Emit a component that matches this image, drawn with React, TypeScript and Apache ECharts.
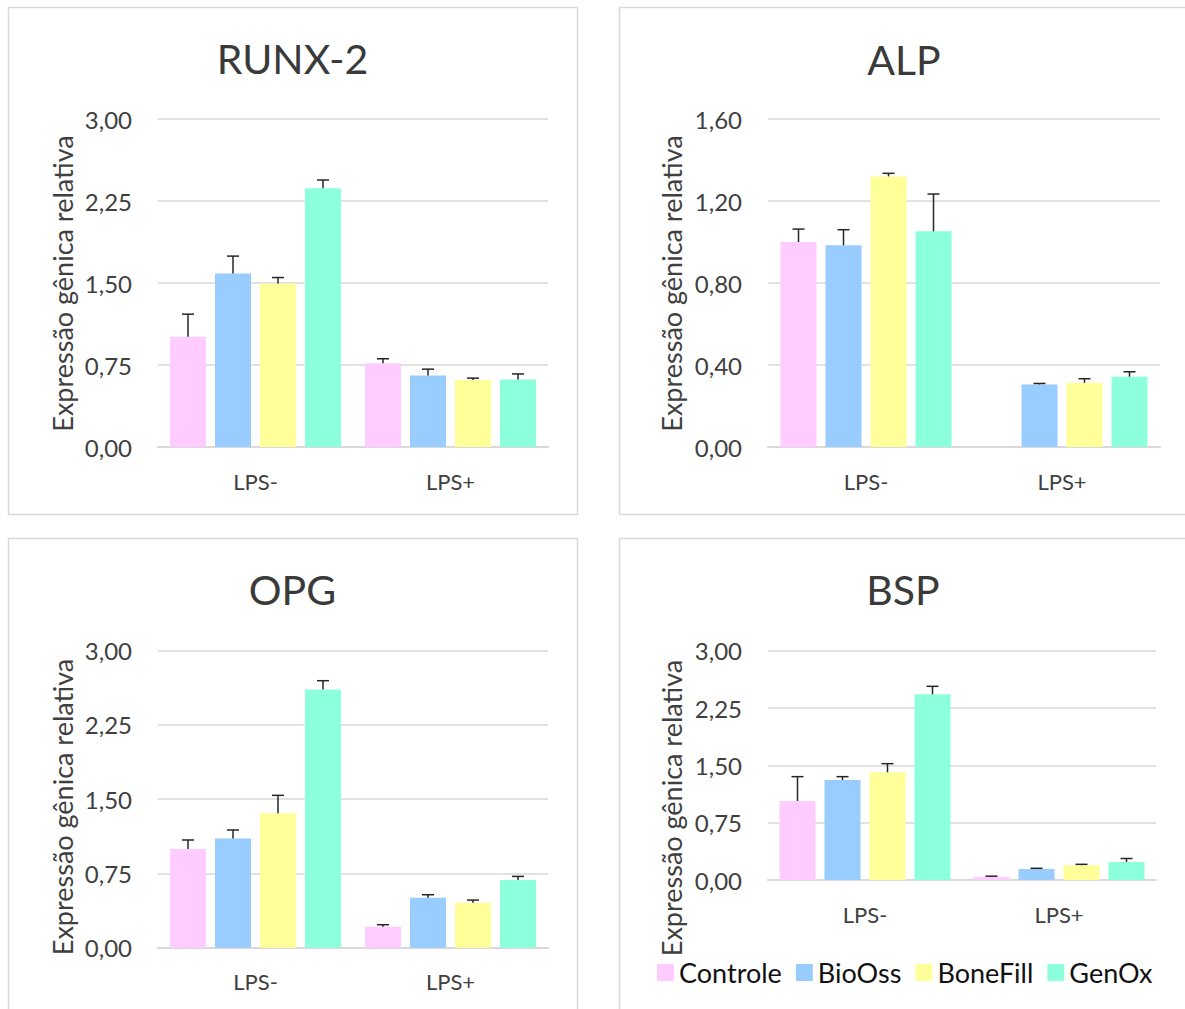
import React, { useEffect, useRef } from "react";
import * as echarts from "echarts";

const categories = ["LPS-", "LPS+"];
const groups = ["Controle", "BioOss", "BoneFill", "GenOx"];
const colors = ["#FFCCFF", "#99CCFF", "#FFFF99", "#8CFFDD"];
const yAxisName = "Expressão gênica relativa";

// mean values [group][category]
const runx2Mean = [[1.008, 0.765], [1.588, 0.655], [1.495, 0.612], [2.366, 0.618]];
const runx2Err = [[0.207, 0.042], [0.158, 0.057], [0.055, 0.018], [0.076, 0.05]];
const alpMean = [[1.0, null], [0.984, 0.305], [1.32, 0.313], [1.052, 0.343]];
const alpErr = [[0.063, null], [0.076, 0.005], [0.015, 0.02], [0.182, 0.024]];
const opgMean = [[0.997, 0.212], [1.104, 0.505], [1.357, 0.455], [2.609, 0.684]];
const opgErr = [[0.091, 0.02], [0.085, 0.03], [0.182, 0.026], [0.088, 0.036]];
const bspMean = [[1.034, 0.039], [1.308, 0.144], [1.409, 0.194], [2.429, 0.235]];
const bspErr = [[0.318, 0.011], [0.044, 0.009], [0.113, 0.011], [0.105, 0.046]];

const BAR_WIDTH = 36;
const BAR_GAP = 0.25;
const CAP = 12;
const FONT = "Lato, 'Open Sans', sans-serif";

const panels = [
  { title: "RUNX-2", mean: runx2Mean, err: runx2Err, max: 3, interval: 0.75,
    grid: { left: 158, top: 119, width: 390, height: 328 },
    titleX: 292.5, titleY: 58, nameX: 62, nameY: 283.5,
    border: { x: 8.5, y: 7.5, w: 569, h: 507 } },
  { title: "ALP", mean: alpMean, err: alpErr, max: 1.6, interval: 0.4,
    grid: { left: 768, top: 119, width: 392, height: 328 },
    titleX: 904, titleY: 59, nameX: 671, nameY: 283.5,
    border: { x: 619.5, y: 7.5, w: 620, h: 507 } },
  { title: "OPG", mean: opgMean, err: opgErr, max: 3, interval: 0.75,
    grid: { left: 158, top: 650.7, width: 390, height: 297 },
    titleX: 292.5, titleY: 589, nameX: 62, nameY: 807,
    border: { x: 8.5, y: 538.5, w: 569, h: 520 } },
  { title: "BSP", mean: bspMean, err: bspErr, max: 3, interval: 0.75,
    grid: { left: 768, top: 650.7, width: 388, height: 229.3 },
    titleX: 903, titleY: 589, nameX: 671, nameY: 808,
    border: { x: 619.5, y: 538.5, w: 620, h: 520 } },
];

const fmt = (v: number) => v.toFixed(2).replace(".", ",");

export default function App() {
  const ref = useRef<HTMLDivElement>(null);
  useEffect(() => {
    if (!ref.current) return;
    const chart = echarts.init(ref.current, null, { renderer: "svg" });
    const pitch = BAR_WIDTH * (1 + BAR_GAP);

    const grids: any[] = [];
    const xAxes: any[] = [];
    const yAxes: any[] = [];
    const series: any[] = [];
    const graphics: any[] = [];

    panels.forEach((p, pi) => {
      grids.push({ ...p.grid, containLabel: false });
      xAxes.push({
        type: "category", gridIndex: pi, data: categories,
        axisLine: { lineStyle: { color: "#D9D9D9", width: 2 } },
        axisTick: { show: false },
        axisLabel: { color: "#404040", fontSize: 22, fontFamily: FONT, margin: 23 },
      });
      yAxes.push({
        type: "value", gridIndex: pi, min: 0, max: p.max, interval: p.interval,
        axisLine: { show: false }, axisTick: { show: false },
        splitLine: { lineStyle: { color: "#D9D9D9", width: 1.5 } },
        axisLabel: { color: "#404040", fontSize: 24, fontFamily: FONT, margin: 26, formatter: fmt },
      });
      groups.forEach((g, gi) => {
        series.push({
          type: "bar", name: g, xAxisIndex: pi, yAxisIndex: pi,
          data: p.mean[gi], barWidth: BAR_WIDTH, barGap: `${BAR_GAP * 100}%`,
          itemStyle: { color: colors[gi] }, z: 2,
        });
      });
      const errData: any[] = [];
      groups.forEach((g, gi) => {
        categories.forEach((c, ci) => {
          const m = p.mean[gi][ci];
          const e = p.err[gi][ci];
          if (m != null && e != null) errData.push([ci, m, e, gi]);
        });
      });
      series.push({
        type: "custom", name: "err" + pi, xAxisIndex: pi, yAxisIndex: pi, z: 5,
        encode: { x: 0, y: 1 }, data: errData, silent: true,
        renderItem: (params: any, api: any) => {
          const ci = api.value(0), m = api.value(1), e = api.value(2), gi = api.value(3);
          const b = api.coord([ci, m]);
          const t = api.coord([ci, m + e]);
          const x = b[0] + (gi - (groups.length - 1) / 2) * pitch;
          const st = { stroke: "#262626", lineWidth: 1.5 };
          return {
            type: "group",
            children: [
              { type: "line", shape: { x1: x, y1: b[1], x2: x, y2: t[1] }, style: st },
              { type: "line", shape: { x1: x - CAP / 2, y1: t[1], x2: x + CAP / 2, y2: t[1] }, style: st },
            ],
          };
        },
      });
      graphics.push({
        type: "rect", shape: { x: p.border.x, y: p.border.y, width: p.border.w, height: p.border.h },
        style: { fill: "none", stroke: "#D9D9D9", lineWidth: 1.5 }, z: -10,
      });
      graphics.push({
        type: "text", x: p.titleX, y: p.titleY,
        style: { text: p.title, fill: "#3A3A3A", font: `41px ${FONT}`, align: "center", verticalAlign: "middle" },
      });
      graphics.push({
        type: "text", x: p.nameX, y: p.nameY, rotation: Math.PI / 2,
        style: { text: yAxisName, fill: "#404040", font: `27px ${FONT}`, align: "center", verticalAlign: "middle" },
      });
    });

    chart.setOption({
      animation: false,
      backgroundColor: "#FFFFFF",
      grid: grids, xAxis: xAxes, yAxis: yAxes, series,
      graphic: graphics,
      legend: {
        data: groups, left: 657, top: 959, padding: 0, itemWidth: 17, itemHeight: 17, itemGap: 14,
        icon: "rect", textStyle: { color: "#111", fontSize: 27, fontFamily: FONT },
        selectedMode: false,
      },
    });
    return () => chart.dispose();
  }, []);
  return <div ref={ref} style={{ position: "absolute", left: 0, top: 0, width: 1185, height: 1009 }} />;
}
